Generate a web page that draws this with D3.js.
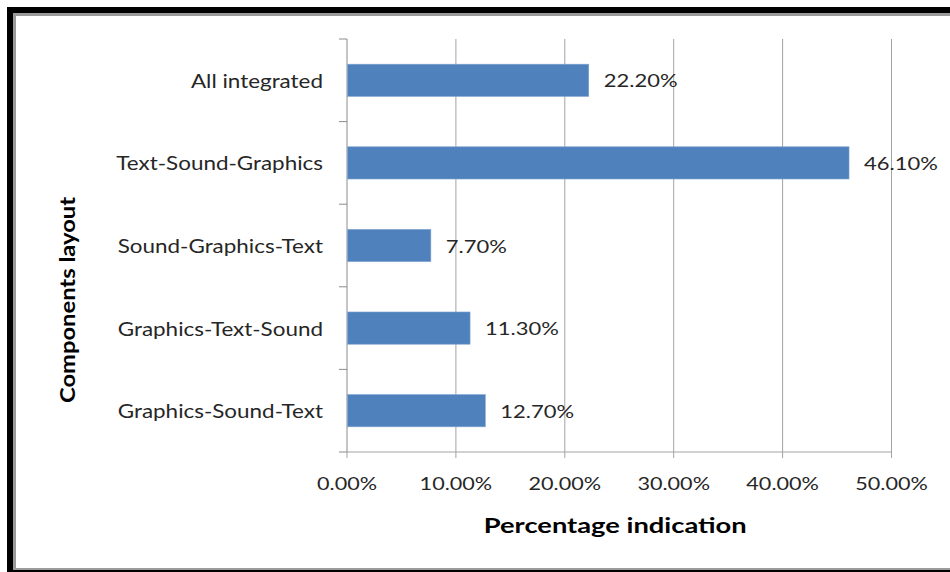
<!DOCTYPE html>
<html><head><meta charset="utf-8">
<script src="https://cdn.jsdelivr.net/npm/d3@7"></script>
<style>html,body{margin:0;padding:0;background:#fff;overflow:hidden}</style>
</head><body>
<svg id="chart" width="950" height="572"></svg>
<script>
const categories = ["All integrated","Text-Sound-Graphics","Sound-Graphics-Text","Graphics-Text-Sound","Graphics-Sound-Text"];
const values = [22.2, 46.1, 7.7, 11.3, 12.7];
const xTicks = [0,10,20,30,40,50];
const xTitle = "Percentage indication";
const yTitle = "Components layout";

(function(){
const svg = d3.select("#chart");
function stretch(f){
  return sel => sel.each(function(){
    const l = this.getComputedTextLength();
    d3.select(this).attr("textLength", l*f).attr("lengthAdjust","spacingAndGlyphs");
  });
}

// frame
svg.append("rect").attr("x",7).attr("y",7).attr("width",960).attr("height",580).attr("fill","#000");
svg.append("rect").attr("x",13).attr("y",13).attr("width",960).attr("height",557).attr("fill","#9a9a9a");
svg.append("rect").attr("x",16).attr("y",16).attr("width",960).attr("height",552).attr("fill","#fff");

const pl=347, pr=891.5, pt=39, pb=452;
const x = d3.scaleLinear().domain([0,50]).range([pl,pr]);
const y = d3.scaleBand().domain(categories).range([pt,pb]).paddingInner(0.61).paddingOuter(0.305);
const yb = d3.scaleBand().domain(categories).range([pt,pb]);

const font = "Lato, 'Open Sans', sans-serif";
const g = svg.append("g");

// gridlines
g.selectAll("line.grid").data(xTicks.slice(1)).join("line")
  .attr("x1",d=>x(d)).attr("x2",d=>x(d)).attr("y1",pt).attr("y2",pb+6)
  .attr("stroke","#a3a3a3").attr("stroke-width",1);
g.append("line").attr("x1",pl).attr("x2",pr).attr("y1",pb).attr("y2",pb).attr("stroke","#a3a3a3");
g.append("line").attr("x1",pl).attr("x2",pl).attr("y1",pb).attr("y2",pb+6).attr("stroke","#a3a3a3");
g.append("line").attr("x1",pl).attr("x2",pl).attr("y1",pt).attr("y2",pb).attr("stroke","#8c8c8c");
const bounds = categories.map(c=>yb(c)).concat([pb]);
g.selectAll("line.ytick").data(bounds).join("line")
  .attr("x1",pl-8).attr("x2",pl).attr("y1",d=>d).attr("y2",d=>d).attr("stroke","#8c8c8c");

// bars
g.selectAll("rect.bar").data(values).join("rect")
  .attr("x",pl+0.5).attr("y",(d,i)=>y(categories[i]))
  .attr("width",d=>x(d)-pl-0.5).attr("height",y.bandwidth())
  .attr("fill","#4F81BD").attr("stroke","#7fa3cf").attr("stroke-width",0.6);

// data labels
g.selectAll("text.dl").data(values).join("text")
  .attr("x",d=>x(d)+15).attr("y",(d,i)=>y(categories[i])+y.bandwidth()/2)
  .attr("dominant-baseline","central")
  .attr("font-family",font).attr("font-size",18).attr("fill","#262626")
  .text(d=>d.toFixed(2)+"%").call(stretch(1.22));

// category labels
g.selectAll("text.cat").data(categories).join("text")
  .attr("x",323).attr("y",d=>yb(d)+yb.bandwidth()/2)
  .attr("dominant-baseline","central").attr("text-anchor","end")
  .attr("font-family",font).attr("font-size",19).attr("fill","#262626")
  .text(d=>d).call(stretch(1.18));

// x tick labels
g.selectAll("text.xt").data(xTicks).join("text")
  .attr("x",d=>x(d)).attr("y",490)
  .attr("text-anchor","middle")
  .attr("font-family",font).attr("font-size",18).attr("fill","#262626")
  .text(d=>d.toFixed(2)+"%").call(stretch(1.2));

// titles
svg.append("text").attr("x",(pl+pr)/2-4).attr("y",533).attr("text-anchor","middle")
  .attr("font-family",font).attr("font-size",21).attr("font-weight","bold").attr("fill","#000")
  .text(xTitle).call(stretch(1.3));
svg.append("text").attr("transform","translate(75,300) rotate(-90)").attr("text-anchor","middle")
  .attr("font-family",font).attr("font-size",21).attr("font-weight","bold").attr("fill","#000")
  .text(yTitle).call(stretch(1.13));
})();
</script>
</body></html>
